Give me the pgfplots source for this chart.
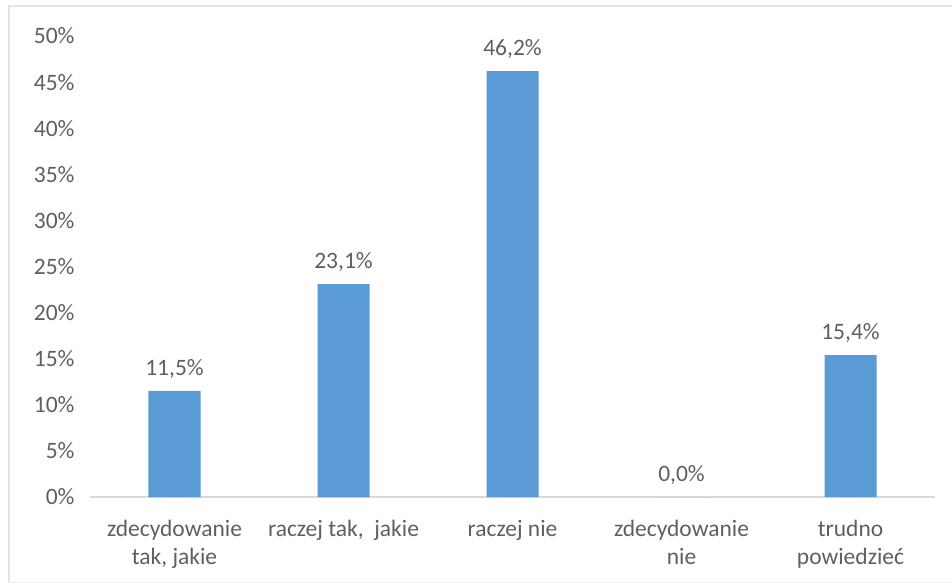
\documentclass[border=0pt]{standalone}
\usepackage{pgfplots}
\pgfplotsset{compat=1.18}
\usepackage{fontspec}
\setmainfont{Carlito}
\definecolor{barblue}{HTML}{5B9BD5}
\definecolor{txtgray}{HTML}{5F5F5F}
\definecolor{axgray}{HTML}{D9D9D9}
\definecolor{framegray}{HTML}{E3E3E3}
\begin{document}
\begin{tikzpicture}
\path[use as bounding box] (-90pt,-89pt) rectangle (862pt,497pt);
\draw[framegray, line width=1.5pt] (-81pt,-85pt) -- (-81pt,491pt) -- (862pt,491pt);
\draw[framegray!60, line width=1pt] (-81pt,-85pt) -- (862pt,-85pt);
\begin{axis}[
  at={(0pt,0pt)}, anchor=south west,
  scale only axis, width=845pt, height=461pt,
  xmin=-0.5, xmax=4.5, ymin=0, ymax=50,
  ytick={0,5,...,50},
  xtick={0,1,2,3,4},
  xticklabels={{zdecydowanie\\tak, jakie},{raczej tak,\ \ jakie},{raczej nie},{zdecydowanie\\nie},{trudno\\powiedzieć}},
  xticklabel style={align=center, font=\fontsize{23.5}{28}\selectfont, text=txtgray, yshift=-20pt},
  yticklabel={\pgfmathprintnumber[assume math mode=true]{\tick}\%},
  yticklabel style={font=\fontsize{23.5}{26}\selectfont, text=txtgray, xshift=-12pt},
  axis x line*=bottom, axis y line*=left,
  x axis line style={axgray, line width=1.5pt},
  y axis line style={draw=none},
  major tick length=0pt,
  tick style={draw=none},
  ybar, bar width=52pt,
  nodes near coords={\pgfmathprintnumber[fixed,fixed zerofill,precision=1,use comma,assume math mode=true]{\pgfplotspointmeta}\%},
  nodes near coords style={font=\fontsize{23.5}{26}\selectfont, text=txtgray, yshift=9pt},
  clip=false,
]
\addplot[fill=barblue, draw=none] coordinates {(0,11.5) (1,23.1) (2,46.2) (3,0.0) (4,15.4)};
\end{axis}
\end{tikzpicture}
\end{document}
